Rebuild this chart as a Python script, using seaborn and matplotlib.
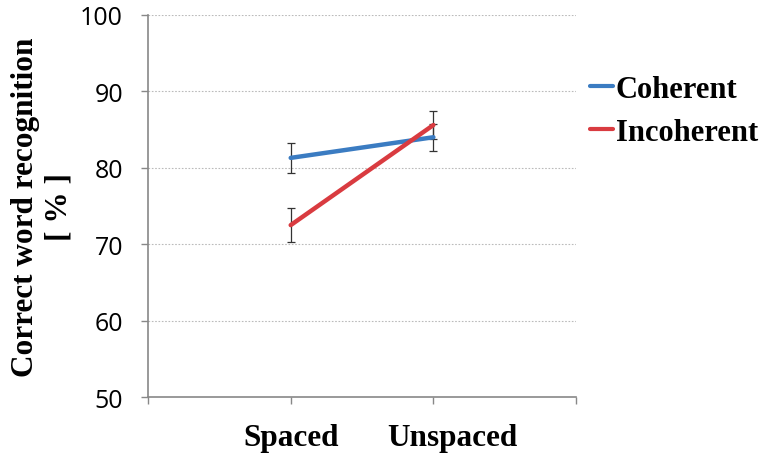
import matplotlib
matplotlib.use("Agg")
import matplotlib.pyplot as plt
import seaborn as sns
import pandas as pd

conditions = ["Spaced", "Unspaced"]
series = ["Coherent", "Incoherent"]
coherent = [81.3, 84.0]
incoherent = [72.5, 85.6]
coherent_err = [2.0, 1.75]
incoherent_err = [2.2, 1.8]
yticks = [50, 60, 70, 80, 90, 100]

colors = {"Coherent": "#3B7CC2", "Incoherent": "#D93B40"}

rows = []
for s, vals, errs in [("Coherent", coherent, coherent_err), ("Incoherent", incoherent, incoherent_err)]:
    for i, c in enumerate(conditions):
        rows.append({"pos": i + 1, "cond": c, "series": s, "value": vals[i], "err": errs[i]})
df = pd.DataFrame(rows)

sns.set_style("white")
plt.rcParams["text.color"] = "black"
plt.rcParams["axes.labelcolor"] = "black"
plt.rcParams["xtick.labelcolor"] = "black"
plt.rcParams["ytick.labelcolor"] = "black"
fig = plt.figure(figsize=(7.59, 4.56), dpi=100)
ax = fig.add_axes([0.195, 0.127, 0.564, 0.838])

sns.lineplot(data=df, x="pos", y="value", hue="series", palette=colors,
             linewidth=3.2, ax=ax, legend=True, errorbar=None)
for s in series:
    sub = df[df["series"] == s]
    ax.errorbar(sub["pos"], sub["value"], yerr=sub["err"], fmt="none",
                ecolor="#333333", elinewidth=0.9, capsize=3, capthick=0.9, zorder=1)

handles, labels = ax.get_legend_handles_labels()
if ax.get_legend() is not None:
    ax.get_legend().remove()

ax.set_xlim(0, 3)
ax.set_ylim(50, 100)
ax.set_yticks(yticks)
ax.set_yticklabels([str(v) for v in yticks], fontsize=18, family="Open Sans", color="black")
# major ticks: category boundaries/positions (no labels)
ax.xaxis.remove_overlapping_locs = False
ax.set_xticks([0, 1, 2, 3])
ax.set_xticklabels([])
# minor ticks carry the category labels (Unspaced label sits slightly right as in reference)
ax.set_xticks([1, 2.13], minor=True)
ax.set_xticklabels(conditions, minor=True, fontsize=22.5, color="black",
                   fontweight="bold", family="Liberation Serif")

ax.grid(axis="y", color="#BBBBBB", linestyle=(0, (1.5, 1.5)), linewidth=0.8)
ax.set_axisbelow(True)
for sp in ["top", "right"]:
    ax.spines[sp].set_visible(False)
for sp in ["left", "bottom"]:
    ax.spines[sp].set_color("#888888")
    ax.spines[sp].set_linewidth(1.2)
ax.tick_params(axis="both", which="major", direction="out", length=5, width=1,
               color="#888888", left=True, bottom=True)
ax.tick_params(axis="x", which="minor", length=0, pad=19, bottom=True)
ax.tick_params(axis="y", pad=13)

ax.set_xlabel("")
ax.set_ylabel("Correct word recognition\n[ % ]", fontsize=22.5, fontweight="bold",
              family="Liberation Serif", labelpad=5, linespacing=1.2, color="black")

leg = fig.legend(handles, labels, loc="upper left", bbox_to_anchor=(590 / 759, 1 - 76 / 456),
                 frameon=False, handlelength=0.75, handletextpad=0.1, labelspacing=0.45,
                 prop={"family": "Liberation Serif", "weight": "bold", "size": 22},
                 borderaxespad=0, borderpad=0, labelcolor="black")
for h in leg.get_lines():
    h.set_linewidth(3.0)

fig.savefig("out.png", dpi=100)
